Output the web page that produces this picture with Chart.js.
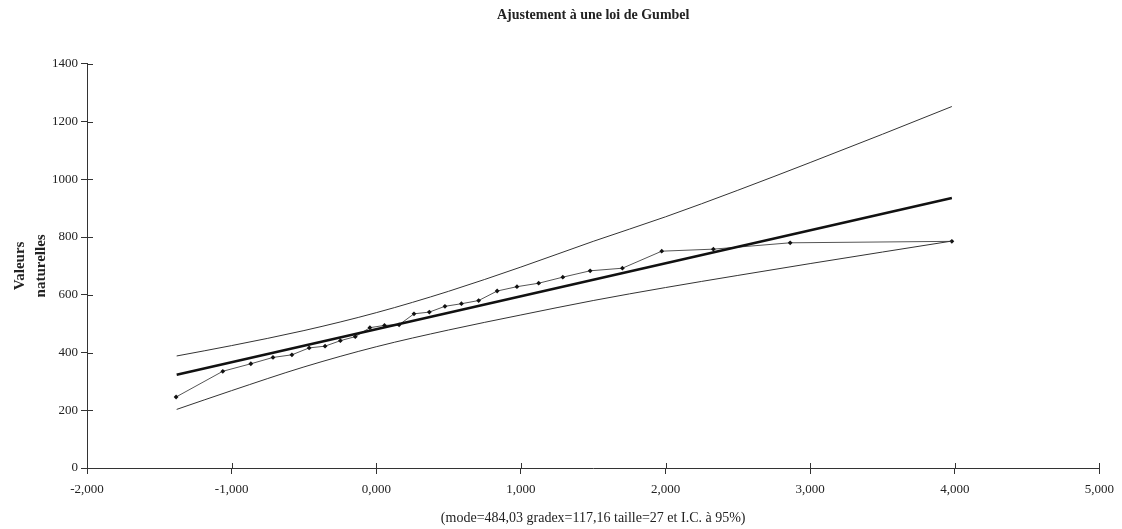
<!DOCTYPE html>
<html>
<head>
<meta charset="utf-8">
<script src="https://cdn.jsdelivr.net/npm/chart.js@4.4.1/dist/chart.umd.min.js"></script>
<style>
  html, body { margin: 0; padding: 0; background: #fff; }
  #chart { display: block; }
</style>
</head>
<body>
<canvas id="chart" width="1122" height="529"></canvas>
<script>
const obsU = [-1.384, -1.061, -0.867, -0.714, -0.583, -0.464, -0.354, -0.248, -0.145,
    -0.044, 0.057, 0.158, 0.261, 0.367, 0.475, 0.589, 0.708, 0.836, 0.973,
    1.123, 1.290, 1.479, 1.702, 1.974, 2.331, 2.862, 3.980];
// observed values
const obsQ = [246, 335, 361, 383, 392, 416, 422, 441, 455,
    486, 494, 496, 534, 540, 560, 569, 580, 613, 628,
    640, 661, 683, 692, 751, 758, 780, 785];

// fitted Gumbel line
const fitU = [-1.38, 3.98];
const fitQ = [323, 935];

// 95% confidence band
const bandU = [-1.38, -1.0, -0.5, 0, 0.5, 1.0, 1.5, 2.0, 2.5, 3.0, 3.5, 3.98];
const upperQ = [388, 424, 476, 538, 612, 696, 785, 870, 962, 1058, 1156, 1252];
const lowerQ = [203, 268, 350, 420, 478, 530, 580, 625, 667, 708, 748, 786];

const xTicks = [-2, -1, 0, 1, 2, 3, 4, 5];
const yTicks = [0, 200, 400, 600, 800, 1000, 1200, 1400];

const toPts = (xs, ys) => xs.map((x, i) => ({ x: x, y: ys[i] }));

const serif = '"Liberation Serif", "Times New Roman", serif';
const ink = '#222';

// tick marks crossing the axes (the inner half)
const innerTicks = {
    id: 'innerTicks',
    afterDraw(chart) {
        const ctx = chart.ctx;
        const xs = chart.scales.x, ys = chart.scales.y;
        ctx.save();
        ctx.strokeStyle = '#333';
        ctx.lineWidth = 1;
        ctx.beginPath();
        yTicks.forEach(v => {
            const py = Math.round(ys.getPixelForValue(v)) + 0.5;
            ctx.moveTo(xs.left, py);
            ctx.lineTo(xs.left + 6, py);
        });
        xTicks.forEach(v => {
            const px = Math.round(xs.getPixelForValue(v)) + 0.5;
            ctx.moveTo(px, ys.bottom);
            ctx.lineTo(px, ys.bottom - 5);
        });
        ctx.stroke();
        ctx.restore();
    }
};

new Chart(document.getElementById('chart'), {
    type: 'scatter',
    data: {
        datasets: [
            {
                label: 'Ajustement',
                data: toPts(fitU, fitQ),
                showLine: true,
                borderColor: '#111',
                borderWidth: 2.6,
                pointRadius: 0
            },
            {
                label: 'IC sup',
                data: toPts(bandU, upperQ),
                showLine: true,
                borderColor: '#333',
                borderWidth: 1,
                pointRadius: 0,
                cubicInterpolationMode: 'monotone'
            },
            {
                label: 'IC inf',
                data: toPts(bandU, lowerQ),
                showLine: true,
                borderColor: '#333',
                borderWidth: 1,
                pointRadius: 0,
                cubicInterpolationMode: 'monotone'
            },
            {
                label: 'Observations',
                data: toPts(obsU, obsQ),
                showLine: true,
                borderColor: '#555',
                borderWidth: 1,
                pointStyle: 'rectRot',
                pointRadius: 2.4,
                pointBackgroundColor: '#111',
                pointBorderColor: '#111',
                pointBorderWidth: 0
            }
        ]
    },
    options: {
        responsive: false,
        animation: false,
        layout: { padding: { left: 0, right: 17, top: 0, bottom: 0 } },
        plugins: {
            legend: { display: false },
            tooltip: { enabled: false },
            title: {
                display: true,
                text: 'Ajustement à une loi de Gumbel',
                fullSize: false,
                color: ink,
                font: { family: serif, size: 14, weight: 'bold' },
                padding: { top: 7, bottom: 40 }
            }
        },
        scales: {
            x: {
                type: 'linear',
                min: -2,
                max: 5,
                afterBuildTicks: (s) => { s.ticks = xTicks.map(v => ({ value: v })); },
                afterFit: (s) => { s.height = 61; },
                ticks: {
                    color: ink,
                    font: { family: serif, size: 13 },
                    padding: 8,
                    maxRotation: 0,
                    callback: (v) => v.toFixed(3).replace('.', ',')
                },
                grid: { drawOnChartArea: false, color: '#333', tickLength: 6 },
                border: { color: '#333', width: 1 },
                title: {
                    display: true,
                    text: '(mode=484,03 gradex=117,16 taille=27 et I.C. à 95%)',
                    color: ink,
                    font: { family: serif, size: 14 },
                    padding: { top: 0, bottom: 2 }
                }
            },
            y: {
                type: 'linear',
                min: 0,
                max: 1400,
                afterBuildTicks: (s) => { s.ticks = yTicks.map(v => ({ value: v })); },
                afterFit: (s) => { s.width = 87; },
                ticks: {
                    color: ink,
                    font: { family: serif, size: 13 },
                    padding: 3,
                    callback: (v) => String(v)
                },
                grid: { drawOnChartArea: false, color: '#333', tickLength: 6 },
                border: { color: '#333', width: 1 },
                title: {
                    display: true,
                    text: ['Valeurs', 'naturelles'],
                    color: ink,
                    font: { family: serif, size: 15, weight: 'bold', lineHeight: 1.4 },
                    padding: { top: 10, bottom: 0 }
                }
            }
        }
    },
    plugins: [innerTicks]
});
</script>
</body>
</html>
